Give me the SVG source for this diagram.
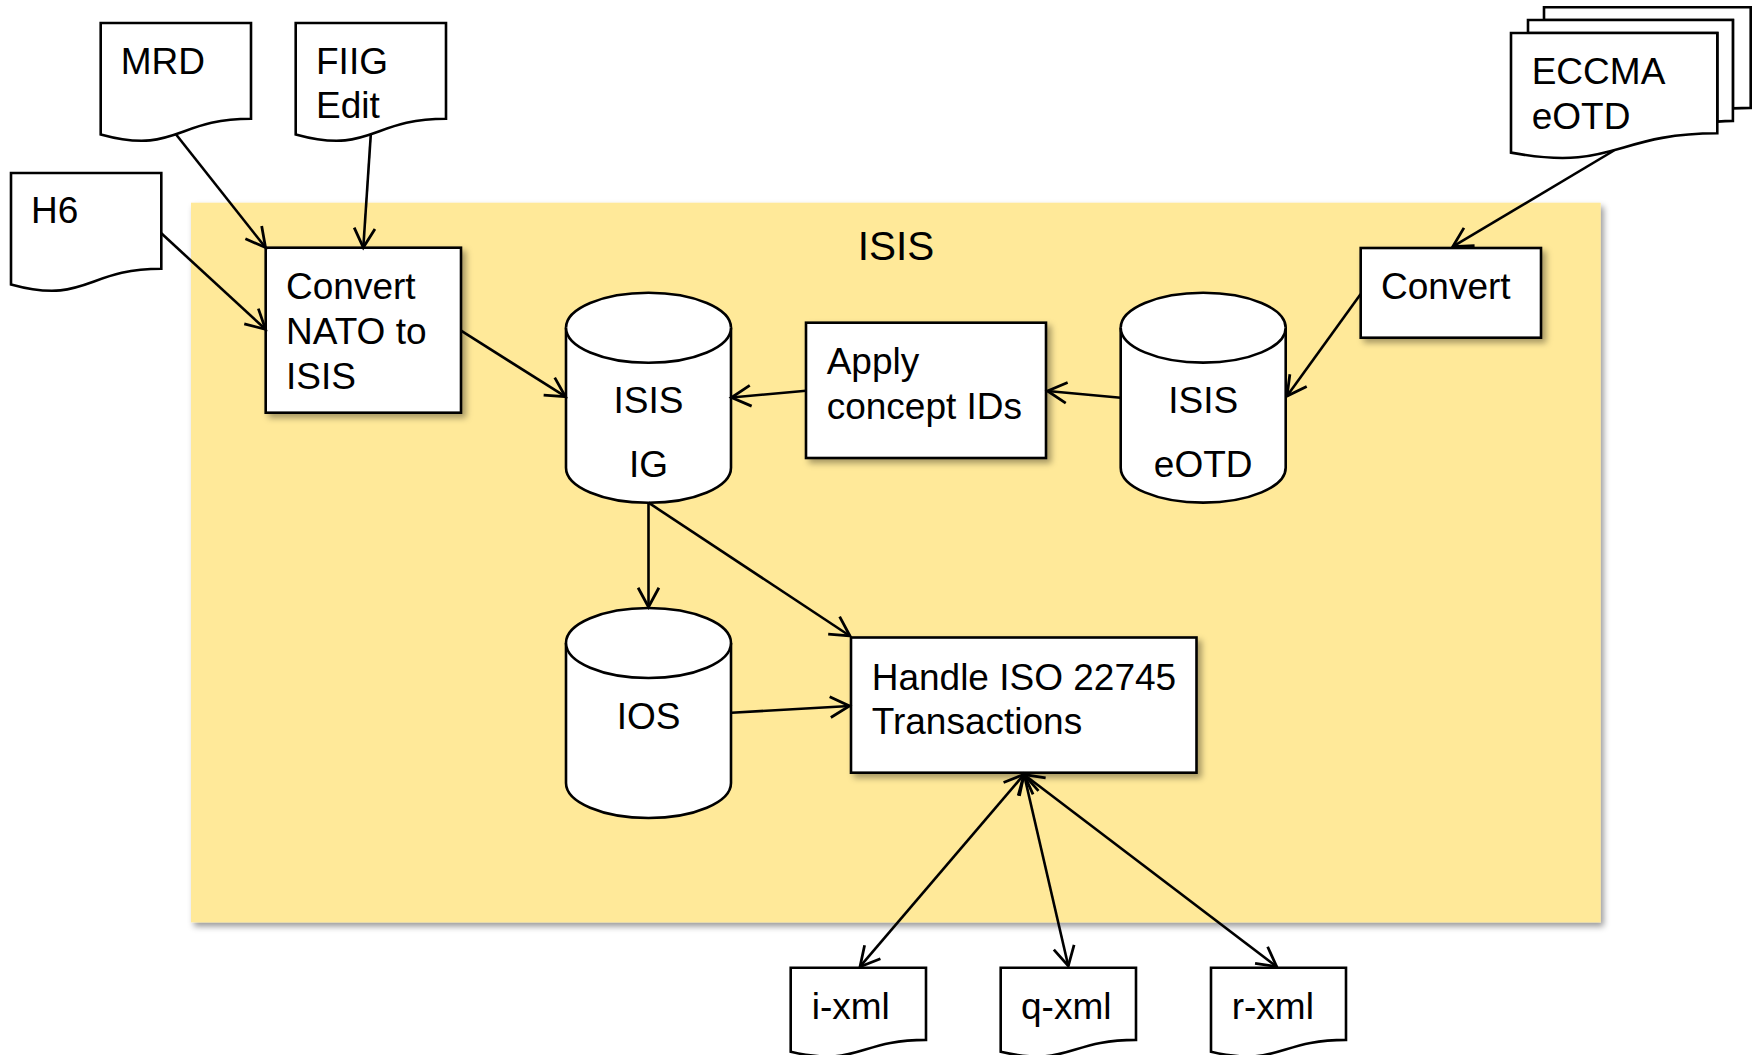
<svg xmlns="http://www.w3.org/2000/svg" width="1756" height="1055" viewBox="0 0 1756 1055">
<defs>
<filter id="sh" x="-10%" y="-10%" width="130%" height="130%">
<feDropShadow dx="4" dy="4" stdDeviation="3" flood-color="#000" flood-opacity="0.35"/>
</filter>
<filter id="shbg" x="-5%" y="-5%" width="110%" height="110%">
<feDropShadow dx="3" dy="4" stdDeviation="3" flood-color="#000" flood-opacity="0.4"/>
</filter>
<marker id="arr" markerUnits="userSpaceOnUse" markerWidth="30" markerHeight="30" viewBox="-22 -14 26 28" refX="0" refY="0" orient="auto-start-reverse" overflow="visible">
<path d="M-18,-9.7 L0,0 L-18,9.7" fill="none" stroke="#000" stroke-width="2.6"/>
</marker>
</defs>
<style>
text{font-family:"Liberation Sans",Arial,sans-serif;font-size:37px;fill:#000}
.shape{fill:#fff;stroke:#000;stroke-width:2.6}
.box{fill:#fff;stroke:#000;stroke-width:2.6;filter:url(#sh)}
.mid{text-anchor:middle}
#connectors line{stroke:#000;stroke-width:2.6;fill:none;marker-end:url(#arr)}
#connectors line.both{marker-start:url(#arr)}
</style>
<rect width="1756" height="1055" fill="#fff"/>

<g id="isis-area">
<rect x="191" y="202.7" width="1409.7" height="719.7" fill="#FFE999" filter="url(#shbg)"/>
<text x="896" y="260" class="mid" style="font-size:40.5px">ISIS</text>
</g>

<g id="mrd">
<path class="shape" d="M100.7,23 H251 V118.7 C175.85,118.7 175.85,155.1 100.7,134.4 Z"/>
<text x="120.7" y="74">MRD</text>
</g>
<g id="fiig">
<path class="shape" d="M295.7,23 H446 V118.7 C370.85,118.7 370.85,155.1 295.7,134.4 Z"/>
<text x="316" y="74">FIIG</text>
<text x="316" y="118.3">Edit</text>
</g>
<g id="h6">
<path class="shape" d="M11,173 H161.3 V268.7 C86.15,268.7 86.15,305.1 11,284.4 Z"/>
<text x="31" y="223.3">H6</text>
</g>
<g id="eccma">
<path class="shape" d="M1544,20 V7.3 H1750.7 V107.9 C1741.8,107.9 1732.9,108.4 1732.9,108.4 V20 Z"/>
<path class="shape" d="M1528,33 V20 H1732.9 V120.9 C1725.1,120.9 1717.3,121.6 1717.3,121.6 V33 Z"/>
<path class="shape" d="M1511,152.6 C1614.2,171.9 1614.2,133.3 1717.3,133.3 V33 H1511 Z"/>
<text x="1531.7" y="84">ECCMA</text>
<text x="1531.7" y="129.3">eOTD</text>
</g>

<g id="convert-nato">
<rect class="box" x="265.7" y="247.7" width="195.3" height="165"/>
<text x="286" y="299">Convert</text>
<text x="286" y="344">NATO to</text>
<text x="286" y="388.7">ISIS</text>
</g>
<g id="convert">
<rect class="box" x="1360.7" y="248" width="180.3" height="89.7"/>
<text x="1381" y="299">Convert</text>
</g>
<g id="apply">
<rect class="box" x="806" y="322.7" width="240" height="135.3"/>
<text x="826.7" y="374">Apply</text>
<text x="826.7" y="419">concept IDs</text>
</g>
<g id="handle">
<rect class="box" x="851" y="637.5" width="345.5" height="135.2"/>
<text x="871.7" y="689.5">Handle ISO 22745</text>
<text x="871.7" y="733.5">Transactions</text>
</g>

<g id="isis-ig">
<path class="shape" d="M566,327.7 A82.5,35 0 0 1 731,327.7 V467.7 A82.5,35 0 0 1 566,467.7 Z"/>
<path class="shape" fill="none" d="M566,327.7 A82.5,35 0 0 0 731,327.7"/>
<text x="648.5" y="413.3" class="mid">ISIS</text>
<text x="648.5" y="476.7" class="mid">IG</text>
</g>
<g id="isis-eotd">
<path class="shape" d="M1120.7,327.7 A82.5,35 0 0 1 1285.7,327.7 V467.7 A82.5,35 0 0 1 1120.7,467.7 Z"/>
<path class="shape" fill="none" d="M1120.7,327.7 A82.5,35 0 0 0 1285.7,327.7"/>
<text x="1203.2" y="413.3" class="mid">ISIS</text>
<text x="1203.2" y="476.7" class="mid">eOTD</text>
</g>
<g id="ios">
<path class="shape" d="M566,643 A82.5,35 0 0 1 731,643 V783 A82.5,35 0 0 1 566,783 Z"/>
<path class="shape" fill="none" d="M566,643 A82.5,35 0 0 0 731,643"/>
<text x="648.5" y="729.3" class="mid">IOS</text>
</g>

<g id="i-xml">
<path class="shape" d="M790.7,967.7 H926 V1039.9 C858.35,1039.9 858.35,1067.4 790.7,1051.8 Z"/>
<text x="811.7" y="1018.5">i-xml</text>
</g>
<g id="q-xml">
<path class="shape" d="M1000.7,967.7 H1136 V1039.9 C1068.35,1039.9 1068.35,1067.4 1000.7,1051.8 Z"/>
<text x="1021" y="1018.5">q-xml</text>
</g>
<g id="r-xml">
<path class="shape" d="M1211,967.7 H1346 V1039.9 C1278.5,1039.9 1278.5,1067.4 1211,1051.8 Z"/>
<text x="1231.7" y="1018.5">r-xml</text>
</g>

<g id="connectors">
<line x1="175.9" y1="134.3" x2="265.5" y2="247.5"/>
<line x1="370.8" y1="134.3" x2="363.3" y2="247.5"/>
<line x1="161.3" y1="233.3" x2="265.5" y2="329.3"/>
<line x1="461" y1="330.7" x2="565.5" y2="396.7"/>
<line x1="806" y1="390.7" x2="731.5" y2="397.5"/>
<line x1="1120.7" y1="397.7" x2="1047.5" y2="391"/>
<line x1="1360.7" y1="294" x2="1287" y2="396"/>
<line x1="1614" y1="150.5" x2="1452.7" y2="246.7"/>
<line x1="648.5" y1="502.7" x2="648.5" y2="607"/>
<line x1="648.5" y1="502.7" x2="850" y2="636"/>
<line x1="731.5" y1="712.7" x2="849.5" y2="706"/>
<line class="both" x1="1024" y1="774.5" x2="860" y2="966.7"/>
<line class="both" x1="1024" y1="774.5" x2="1068.3" y2="966"/>
<line class="both" x1="1024" y1="774.5" x2="1276.7" y2="966.7"/>
</g>
</svg>
